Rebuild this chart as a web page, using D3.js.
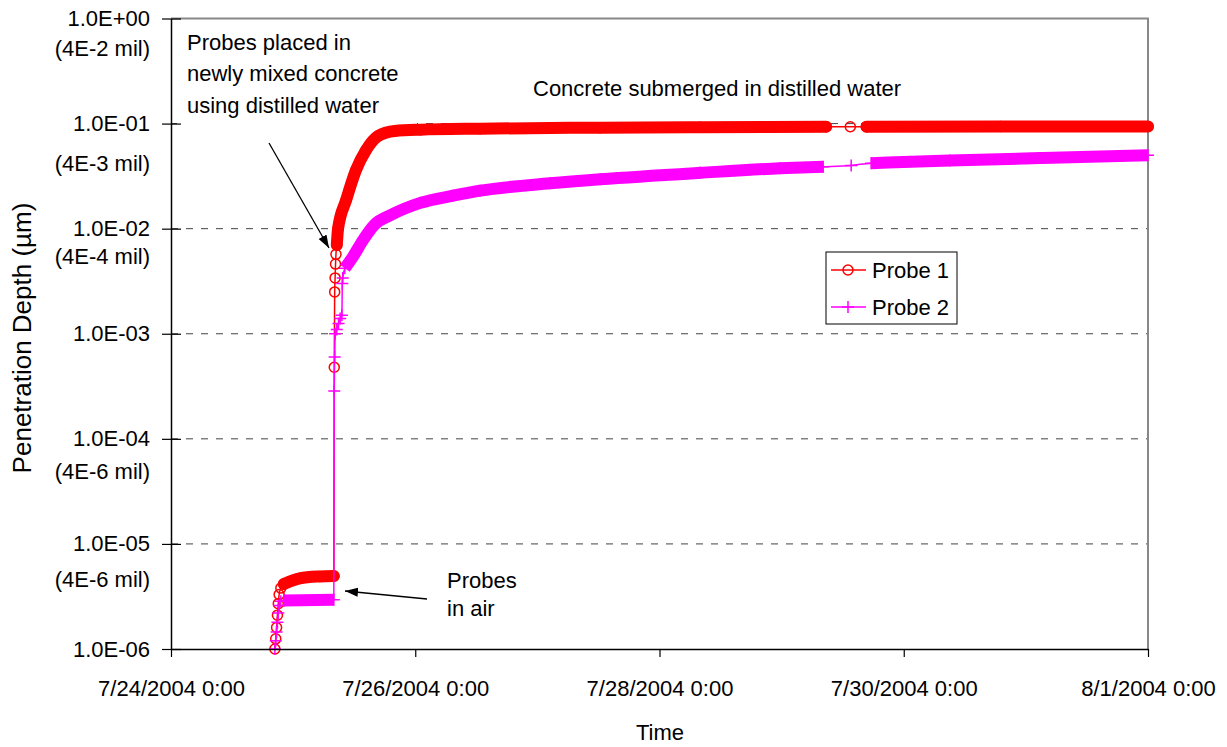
<!DOCTYPE html>
<html>
<head>
<meta charset="utf-8">
<script src="https://cdn.jsdelivr.net/npm/d3@7"></script>
<style>
  body { margin: 0; background: #fff; }
  svg { display: block; font-family: "Liberation Sans", Arial, Helvetica, sans-serif; }
</style>
</head>
<body>
<svg id="chart" width="1227" height="747"></svg>
<script>
// values (time, penetration depth in um)
const probe1Times = [
  "7/24/2004 20:25", "7/24/2004 20:35", "7/24/2004 20:45", "7/24/2004 20:55",
  "7/24/2004 21:05", "7/24/2004 21:15", "7/24/2004 21:35", "7/24/2004 22:10",
  "7/25/2004 1:20", "7/25/2004 5:15", "7/25/2004 8:00", "7/25/2004 8:05",
  "7/25/2004 8:10", "7/25/2004 8:15", "7/25/2004 8:20", "7/25/2004 8:25",
  "7/25/2004 8:35", "7/25/2004 8:50", "7/25/2004 10:25", "7/25/2004 12:20",
  "7/25/2004 14:20", "7/25/2004 16:40", "7/25/2004 20:00", "7/26/2004 1:00",
  "7/26/2004 12:45", "7/27/2004 12:20", "7/28/2004 8:00", "7/29/2004 8:45",
  "7/29/2004 13:30", "7/29/2004 16:40", "7/30/2004 19:00", "8/1/2004 0:00"
];
const probe1Values = [
  1.0e-6, 1.25e-6, 1.6e-6, 2.1e-6,
  2.7e-6, 3.3e-6, 3.8e-6, 4.15e-6,
  4.7e-6, 4.9e-6, 4.95e-6, 4.8e-4,
  2.5e-3, 3.4e-3, 4.6e-3, 5.7e-3,
  7.0e-3, 1.0e-2, 1.87e-2, 3.6e-2,
  5.6e-2, 7.6e-2, 8.5e-2, 8.75e-2,
  8.95e-2, 9.15e-2, 9.25e-2, 9.33e-2,
  9.33e-2, 9.35e-2, 9.37e-2, 9.4e-2
];
const probe2Times = [
  "7/24/2004 20:25", "7/24/2004 20:35", "7/24/2004 20:45", "7/24/2004 20:55",
  "7/24/2004 21:05", "7/24/2004 21:15", "7/24/2004 21:35", "7/24/2004 22:10",
  "7/25/2004 8:00", "7/25/2004 8:05", "7/25/2004 8:10", "7/25/2004 8:15",
  "7/25/2004 8:35", "7/25/2004 8:55", "7/25/2004 9:15", "7/25/2004 9:35",
  "7/25/2004 9:40", "7/25/2004 9:45", "7/25/2004 10:10", "7/25/2004 11:45",
  "7/25/2004 13:45", "7/25/2004 16:05", "7/25/2004 19:05", "7/26/2004 1:00",
  "7/26/2004 7:25", "7/26/2004 12:45", "7/27/2004 2:30", "7/27/2004 12:20",
  "7/28/2004 8:00", "7/28/2004 23:40", "7/29/2004 8:10", "7/29/2004 13:40",
  "7/29/2004 17:35", "7/30/2004 9:05", "7/31/2004 2:50", "8/1/2004 0:00"
];
const probe2Values = [
  1.0e-6, 1.2e-6, 1.45e-6, 1.8e-6,
  2.2e-6, 2.6e-6, 2.85e-6, 2.9e-6,
  2.95e-6, 2.85e-4, 6.0e-4, 1.0e-3,
  1.1e-3, 1.25e-3, 1.4e-3, 1.5e-3,
  3.0e-3, 3.4e-3, 4.2e-3, 5.4e-3,
  7.8e-3, 1.1e-2, 1.34e-2, 1.76e-2,
  2.06e-2, 2.3e-2, 2.7e-2, 2.95e-2,
  3.4e-2, 3.75e-2, 3.88e-2, 4.0e-2,
  4.2e-2, 4.45e-2, 4.7e-2, 5.0e-2
];
const seriesNames = ["Probe 1", "Probe 2"];
const xTickDates = ["7/24/2004 0:00", "7/26/2004 0:00", "7/28/2004 0:00", "7/30/2004 0:00", "8/1/2004 0:00"];
const yTickValues = [1, 1e-1, 1e-2, 1e-3, 1e-4, 1e-5, 1e-6];
const yTickMil = ["(4E-2 mil)", "(4E-3 mil)", "(4E-4 mil)", "", "(4E-6 mil)", "(4E-6 mil)", ""];

const parseTime = d3.timeParse("%m/%d/%Y %H:%M");
const svg = d3.select("#chart");

const x0 = 171, x1 = 1148, yTop = 18.5, yBot = 649;
const x = d3.scaleTime()
  .domain([parseTime(xTickDates[0]), parseTime(xTickDates[xTickDates.length - 1])])
  .range([x0, x1]);
const y = d3.scaleLog().domain([1e-6, 1]).range([yBot, yTop]);

// gridlines
svg.append("g").selectAll("line")
  .data(yTickValues.filter(v => v < 1 && v > 1e-6))
  .enter().append("line")
  .attr("x1", x0).attr("x2", x1)
  .attr("y1", d => y(d)).attr("y2", d => y(d))
  .attr("stroke", "#444").attr("stroke-width", 1)
  .attr("stroke-dasharray", "7,8");

// white text box of the first note (hides the grid beneath it)
svg.append("rect").attr("x", 177).attr("y", 20).attr("width", 240).attr("height", 107).attr("fill", "#fff");

// plot frame (gray top / right)
svg.append("path")
  .attr("d", `M${x0},${yTop}H${x1}V${yBot}`)
  .attr("fill", "none").attr("stroke", "#888").attr("stroke-width", 2);

// series
const series = [
  { name: seriesNames[0], times: probe1Times, values: probe1Values, color: "#ff0000", marker: "circle", bands: [[7, 10], [16, 27], [29, 31]], cap: "round" },
  { name: seriesNames[1], times: probe2Times, values: probe2Values, color: "#ff00ff", marker: "plus", bands: [[7, 8], [18, 30], [32, 35]], cap: "butt" }
];

const line = d3.line()
  .x(d => x(d.t))
  .y(d => y(d.v))
  .curve(d3.curveMonotoneX);

function drawMarker(g, type, color) {
  if (type === "circle") {
    g.append("circle").attr("r", 5).attr("fill", "none")
      .attr("stroke", color).attr("stroke-width", 1.5);
  } else {
    g.append("path").attr("d", "M-6,0H6M0,-6V6")
      .attr("stroke", color).attr("stroke-width", 1.5);
  }
}

series.forEach(s => {
  const pts = s.times.map((t, i) => ({ t: parseTime(t), v: s.values[i] }));
  const g = svg.append("g");

  g.append("path").datum(pts)
    .attr("d", line)
    .attr("fill", "none").attr("stroke", s.color).attr("stroke-width", 1.5);

  // densely sampled stretches: the overlapping markers read as a thick band
  s.bands.forEach(b => {
    g.append("path").datum(pts.slice(b[0], b[1] + 1))
      .attr("d", line)
      .attr("fill", "none").attr("stroke", s.color)
      .attr("stroke-width", 12)
      .attr("stroke-linecap", s.cap).attr("stroke-linejoin", "round");
  });

  g.selectAll("g.pt").data(pts).enter().append("g")
    .attr("class", "pt")
    .attr("transform", d => `translate(${x(d.t)},${y(d.v)})`)
    .each(function () { drawMarker(d3.select(this), s.marker, s.color); });
});

// axes
const fmtExp = v => {
  const e = Math.round(Math.log10(v));
  return "1.0E" + (e < 0 ? "-" : "+") + String(Math.abs(e)).padStart(2, "0");
};

const gy = svg.append("g")
  .attr("transform", `translate(${x0},0)`)
  .call(d3.axisLeft(y).tickValues(yTickValues).tickFormat(fmtExp)
    .tickSize(9).tickSizeOuter(0).tickPadding(12));
gy.attr("font-size", 22).attr("font-family", null);
gy.select(".domain").attr("stroke", "#000").attr("stroke-width", 1.5);
gy.selectAll(".tick line").attr("x1", 10).attr("stroke", "#000").attr("stroke-width", 1.2);
gy.selectAll(".tick text").attr("fill", "#000");

const milOffset = [30, 40, 28, 0, 33, 36, 0];
gy.selectAll(".tick").each(function (d, i) {
  if (!yTickMil[i]) return;
  d3.select(this).append("text")
    .attr("x", -21).attr("y", milOffset[i]).attr("dy", "0.32em")
    .attr("fill", "#000").attr("text-anchor", "end")
    .text(yTickMil[i]);
});

const gx = svg.append("g")
  .attr("transform", `translate(0,${yBot})`)
  .call(d3.axisBottom(x).tickValues(xTickDates.map(parseTime))
    .tickFormat(d3.timeFormat("%-m/%-d/%Y %-H:%M"))
    .tickSize(8).tickSizeOuter(0).tickPadding(23));
gx.attr("font-size", 22).attr("font-family", null);
gx.select(".domain").attr("stroke", "#000").attr("stroke-width", 1.5);
gx.selectAll(".tick line").attr("stroke", "#000").attr("stroke-width", 1.2);
gx.selectAll(".tick text").attr("fill", "#000");

// axis titles
svg.append("text")
  .attr("transform", "translate(22,338) rotate(-90)")
  .attr("text-anchor", "middle").attr("dy", "0.35em")
  .attr("font-size", 26)
  .text("Penetration Depth (\u00b5m)");
svg.append("text")
  .attr("x", 660).attr("y", 732).attr("dy", "0.35em")
  .attr("text-anchor", "middle").attr("font-size", 22)
  .text("Time");

// notes and arrows
svg.append("defs").append("marker")
  .attr("id", "arrow").attr("markerUnits", "userSpaceOnUse")
  .attr("markerWidth", 14).attr("markerHeight", 10)
  .attr("refX", 13).attr("refY", 4.5).attr("orient", "auto")
  .append("path").attr("d", "M0,0L13,4.5L0,9Z").attr("fill", "#000");

const notes = [
  { lines: ["Probes placed in", "newly mixed concrete", "using distilled water"], x: 187, y: 42, gap: 31.5 },
  { lines: ["Concrete submerged in distilled water"], x: 533, y: 88, gap: 0 },
  { lines: ["Probes", "in air"], x: 447, y: 580, gap: 28 }
];
notes.forEach(n => {
  n.lines.forEach((l, i) => {
    svg.append("text").attr("x", n.x).attr("y", n.y + i * n.gap)
      .attr("dy", "0.35em").attr("font-size", 22).text(l);
  });
});

svg.append("line").attr("x1", 269).attr("y1", 143).attr("x2", 329).attr("y2", 248)
  .attr("stroke", "#000").attr("stroke-width", 1.3).attr("marker-end", "url(#arrow)");
svg.append("line").attr("x1", 427).attr("y1", 599).attr("x2", 345).attr("y2", 591)
  .attr("stroke", "#000").attr("stroke-width", 1.3).attr("marker-end", "url(#arrow)");

// legend
const lg = svg.append("g");
lg.append("rect").attr("x", 826).attr("y", 252).attr("width", 131).attr("height", 72)
  .attr("fill", "#fff").attr("stroke", "#000").attr("stroke-width", 1);
series.forEach((s, i) => {
  const ly = 270 + i * 37;
  lg.append("line").attr("x1", 831).attr("x2", 866).attr("y1", ly).attr("y2", ly)
    .attr("stroke", s.color).attr("stroke-width", 1.5);
  const m = lg.append("g").attr("transform", `translate(848,${ly})`);
  drawMarker(m, s.marker, s.color);
  lg.append("text").attr("x", 872).attr("y", ly).attr("dy", "0.35em")
    .attr("font-size", 22).text(s.name);
});
</script>
</body>
</html>
